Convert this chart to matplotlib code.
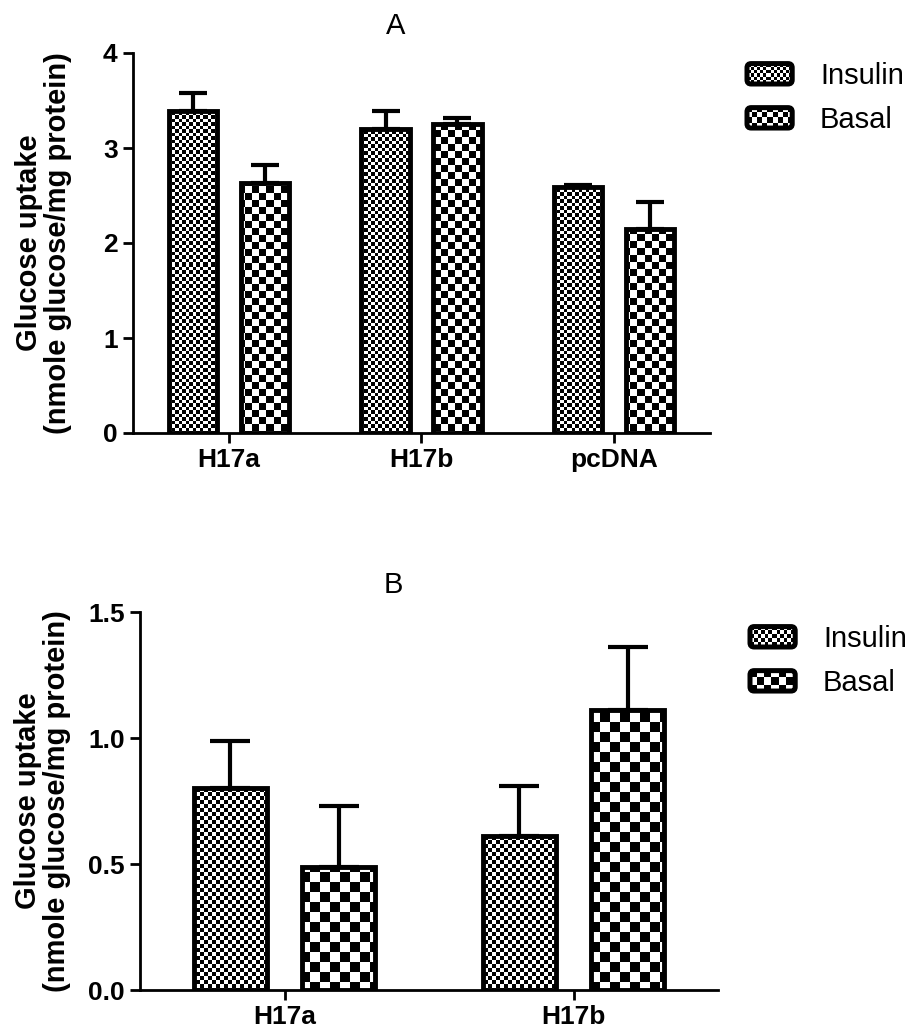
import numpy as np
import matplotlib
matplotlib.use('Agg')
import matplotlib.pyplot as plt
from matplotlib.legend_handler import HandlerBase
from matplotlib.image import BboxImage
from matplotlib.transforms import Bbox, TransformedBbox
from matplotlib.patches import FancyBboxPatch, Patch

plt.rcParams['font.family'] = ['Liberation Sans', 'DejaVu Sans']

# panel A
groups_a = ['H17a', 'H17b', 'pcDNA']
insulin_a = [3.39, 3.20, 2.59]
insulin_a_err = [0.19, 0.19, 0.02]
basal_a = [2.63, 3.25, 2.15]
basal_a_err = [0.19, 0.07, 0.28]
yticks_a = [0, 1, 2, 3, 4]

# panel B
groups_b = ['H17a', 'H17b']
insulin_b = [0.80, 0.61]
insulin_b_err = [0.19, 0.20]
basal_b = [0.49, 1.11]
basal_b_err = [0.24, 0.25]
yticks_b = [0.0, 0.5, 1.0, 1.5]

series = ['Insulin', 'Basal']
ylabel = 'Glucose uptake\n(nmole glucose/mg protein)'

W, H, DPI = 912, 1034, 100
FS = 19


def checker(ny, nx, cell):
    yy, xx = np.mgrid[0:ny, 0:nx]
    return ((np.floor(xx / cell) + np.floor(yy / cell)) % 2).astype(float)


class CheckerHandler(HandlerBase):
    def __init__(self, cell):
        super().__init__()
        self.cell = cell

    def create_artists(self, legend, orig_handle, xdescent, ydescent,
                       width, height, fontsize, trans):
        box = Bbox.from_bounds(-xdescent, -ydescent, width, height)
        nx = int(round(width * DPI / 72))
        ny = int(round(height * DPI / 72))
        img = BboxImage(TransformedBbox(box, trans), cmap='gray',
                        norm=plt.Normalize(0, 1), interpolation='nearest')
        img.set_data(checker(ny, nx, self.cell))
        frame = FancyBboxPatch((-xdescent, -ydescent), width, height,
                               boxstyle='round,pad=0,rounding_size=3',
                               facecolor='none', edgecolor='black',
                               linewidth=3.6, transform=trans)
        return [img, frame]


def panel(ax, groups, ins, ins_err, bas, bas_err, yticks, title, title_x,
          cells, capsize, leg_anchor):
    x = np.arange(len(groups))
    off, bw = 0.187, 0.25
    b1 = ax.bar(x - off, ins, bw, facecolor='none', edgecolor='black',
                linewidth=3.5, zorder=3)
    b2 = ax.bar(x + off, bas, bw, facecolor='none', edgecolor='black',
                linewidth=3.5, zorder=3)
    ax.errorbar(x - off, ins, yerr=[np.zeros(len(ins)), ins_err], fmt='none',
                ecolor='black', elinewidth=3, capsize=capsize, capthick=3,
                zorder=2.5)
    ax.errorbar(x + off, bas, yerr=[np.zeros(len(bas)), bas_err], fmt='none',
                ecolor='black', elinewidth=3, capsize=capsize, capthick=3,
                zorder=2.5)

    # checker fills clipped to each bar
    bb = ax.get_position()
    wpx = int(round(bb.width * W))
    hpx = int(round(bb.height * H))
    for bars, cell in zip([b1, b2], cells):
        img = checker(hpx, wpx, cell)
        for p in bars:
            im = ax.imshow(img, cmap='gray', vmin=0, vmax=1, extent=(0, 1, 0, 1),
                           transform=ax.transAxes, interpolation='nearest',
                           aspect='auto', zorder=2)
            im.set_clip_path(p)

    ax.set_xlim(-0.5, len(groups) - 0.5)
    ax.set_ylim(yticks[0], yticks[-1])
    ax.set_yticks(yticks)
    if isinstance(yticks[1], float):
        ax.set_yticklabels(['%.1f' % v for v in yticks])
    ax.set_xticks(x)
    ax.set_xticklabels(groups)
    for s in ['top', 'right']:
        ax.spines[s].set_visible(False)
    for s in ['left', 'bottom']:
        ax.spines[s].set_linewidth(2)
    ax.tick_params(width=2, length=7, labelsize=FS, pad=4)
    for t in ax.get_xticklabels() + ax.get_yticklabels():
        t.set_fontweight('bold')
    ax.set_ylabel(ylabel, fontsize=FS + 2, fontweight='bold', linespacing=1.05)
    ax.set_title(title, fontsize=FS + 2, x=title_x, pad=14)

    h1, h2 = Patch(), Patch()
    ax.legend([h1, h2], series, fontsize=FS + 2, frameon=False,
              handler_map={h1: CheckerHandler(cells[0] * 0.9),
                           h2: CheckerHandler(cells[1] * 0.7)},
              loc='upper left', bbox_to_anchor=leg_anchor,
              bbox_transform=ax.figure.transFigure, borderpad=0,
              borderaxespad=0, handlelength=1.55, handleheight=0.7,
              handletextpad=0.95, labelspacing=0.55)
    return ax


fig = plt.figure(figsize=(W / DPI, H / DPI), dpi=DPI)
ax1 = fig.add_axes([133 / W, 1 - 433 / H, (710 - 133) / W, 380 / H])
ax2 = fig.add_axes([140 / W, 1 - 990 / H, (718 - 140) / W, 378 / H])

panel(ax1, groups_a, insulin_a, insulin_a_err, basal_a, basal_a_err, yticks_a,
      'A', 0.456, (3.5, 7), 10.4, (747 / W, 1 - 62 / H))
panel(ax2, groups_b, insulin_b, insulin_b_err, basal_b, basal_b_err, yticks_b,
      'B', 0.438, (4, 10), 14.4, (750 / W, 1 - 625 / H))
ax1.yaxis.set_label_coords(-0.105, 0.5)
ax2.yaxis.set_label_coords(-0.12, 0.5)

fig.savefig('out.png', dpi=DPI)
